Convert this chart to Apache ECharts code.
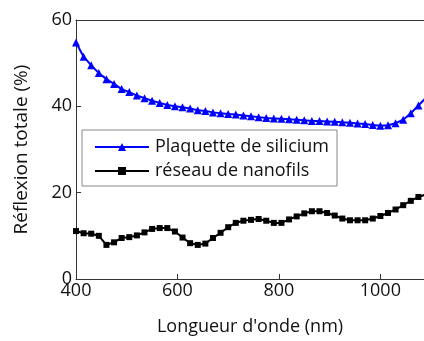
<!DOCTYPE html>
<html>
<head>
<meta charset="utf-8">
<style>
    html, body { margin: 0; padding: 0; background: #fff; }
    #chart { width: 424px; height: 341px; }
</style>
<script src="https://cdn.jsdelivr.net/npm/echarts@6/dist/echarts.min.js"></script>
</head>
<body>
<div id="chart"></div>
<script>
// longueur d'onde (nm), pas de 15 nm
const wavelength = [400, 415, 430, 445, 460, 475, 490, 505, 520, 535,
    550, 565, 580, 595, 610, 625, 640, 655, 670, 685,
    700, 715, 730, 745, 760, 775, 790, 805, 820, 835,
    850, 865, 880, 895, 910, 925, 940, 955, 970, 985,
    1000, 1015, 1030, 1045, 1060, 1075, 1090];
const silicium = [54.8, 51.5, 49.5, 47.7, 46.3, 45.2, 44.0, 43.3, 42.5, 41.9,
    41.3, 40.8, 40.3, 40.0, 39.8, 39.5, 39.1, 38.9, 38.6, 38.4,
    38.2, 38.1, 37.9, 37.7, 37.5, 37.3, 37.2, 37.1, 37.0, 36.9,
    36.8, 36.6, 36.6, 36.5, 36.4, 36.3, 36.2, 36.0, 35.9, 35.7,
    35.5, 35.6, 36.1, 36.9, 38.4, 40.2, 42.0];
const nanofils = [11.1, 10.6, 10.5, 10.0, 7.9, 8.5, 9.5, 9.7, 10.1, 10.8,
    11.6, 11.8, 11.8, 11.0, 9.6, 8.3, 7.9, 8.2, 9.5, 10.7,
    12.0, 13.0, 13.5, 13.7, 13.9, 13.5, 13.0, 13.0, 13.8, 14.5,
    15.2, 15.7, 15.7, 15.3, 14.7, 14.0, 13.6, 13.6, 13.6, 14.0,
    14.6, 15.3, 16.1, 17.1, 18.1, 19.0, 19.6];
const xTicks = [400, 600, 800, 1000];
const yTicks = [0, 20, 40, 60];

const font = 'Open Sans';
const xMax = 1086; // l'image d'origine est coupée vers 1085 nm
const pairs = (vals) => wavelength.map((w, i) => [w, vals[i]]);

const chart = echarts.init(document.getElementById('chart'));
chart.setOption({
    animation: false,
    textStyle: { fontFamily: font },
    grid: {
        left: 76,
        right: 0,
        top: 20,
        bottom: 60
    },
    legend: {
        orient: 'vertical',
        left: 82,
        top: 130,
        padding: [8, 8, 6, 12],
        itemWidth: 54,
        itemHeight: 10,
        itemGap: 6,
        backgroundColor: '#fff',
        borderColor: '#888',
        borderWidth: 1,
        textStyle: { fontSize: 18, color: '#111', fontFamily: font, padding: [0, 0, 0, 1] },
        data: ['Plaquette de silicium', 'réseau de nanofils']
    },
    xAxis: [{
        type: 'value',
        min: xTicks[0],
        max: xMax,
        interval: 200,
        name: "Longueur d'onde (nm)",
        nameLocation: 'middle',
        nameGap: 39,
        nameTextStyle: { fontSize: 18, color: '#111' },
        axisLine: { lineStyle: { color: '#333' } },
        axisTick: { inside: true, length: 5, lineStyle: { color: '#333' } },
        axisLabel: {
            fontSize: 18, color: '#111', margin: 3, showMaxLabel: false,
            formatter: (v) => String(v)
        },
        splitLine: { show: false }
    }, {
        type: 'value',
        position: 'top',
        min: xTicks[0],
        max: xMax,
        interval: 200,
        axisLine: { lineStyle: { color: '#333' } },
        axisTick: { show: false },
        axisLabel: { show: false },
        splitLine: { show: false }
    }],
    yAxis: {
        type: 'value',
        min: yTicks[0],
        max: yTicks[yTicks.length - 1],
        interval: 20,
        name: 'Réflexion totale (%)',
        nameLocation: 'middle',
        nameGap: 45,
        nameTextStyle: { fontSize: 19, color: '#111' },
        axisLine: { show: true, lineStyle: { color: '#333' } },
        axisTick: { show: true, inside: true, length: 5, lineStyle: { color: '#333' } },
        axisLabel: { fontSize: 18, color: '#111', margin: 4 },
        splitLine: { show: false }
    },
    series: [
        {
            name: 'Plaquette de silicium',
            type: 'line',
            data: pairs(silicium),
            symbol: 'triangle',
            symbolSize: 8,
            color: '#0000ff',
            lineStyle: { width: 2, color: '#0000ff' },
            itemStyle: { color: '#0000ff' },
            z: 3
        },
        {
            name: 'réseau de nanofils',
            type: 'line',
            data: pairs(nanofils),
            symbol: 'rect',
            symbolSize: 6,
            color: '#000',
            lineStyle: { width: 2, color: '#000' },
            itemStyle: { color: '#000' },
            z: 2
        }
    ]
});
</script>
</body>
</html>
